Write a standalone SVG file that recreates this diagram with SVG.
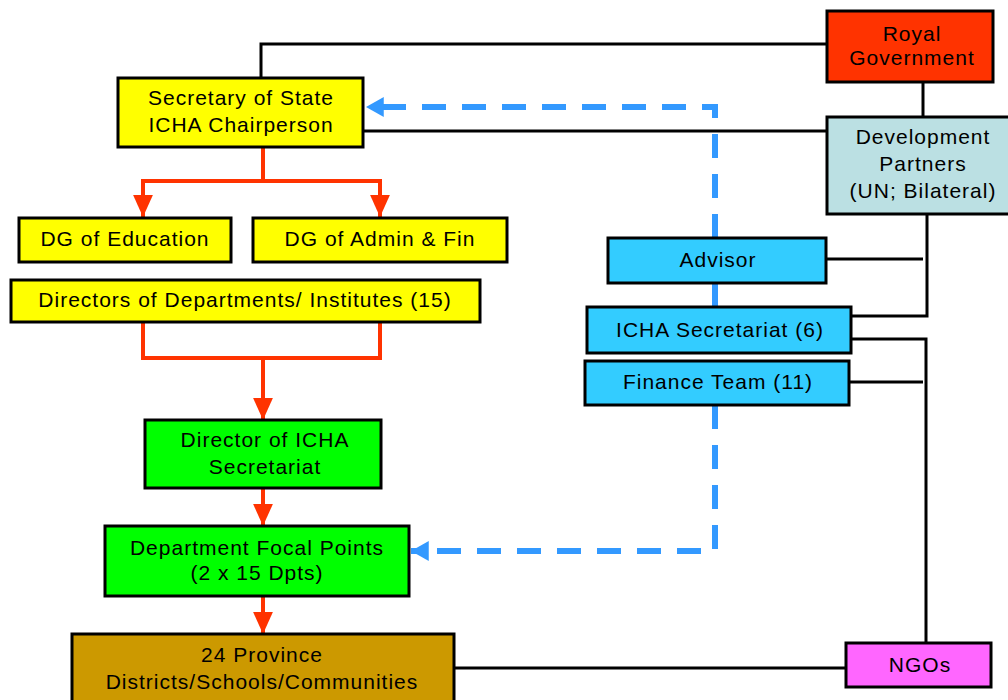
<svg xmlns="http://www.w3.org/2000/svg" width="1008" height="700" viewBox="0 0 1008 700">
<style>
.box{stroke:#000;stroke-width:3}
.t{font-family:"Liberation Sans",Arial,sans-serif;font-size:21px;letter-spacing:1px;fill:#000;text-anchor:middle}
.red{fill:none;stroke:#FF3300;stroke-width:4}
.blk{fill:none;stroke:#000;stroke-width:3}
.blue{fill:none;stroke:#3399FF;stroke-width:6;stroke-dasharray:24 16}
</style>
<defs>
<marker id="ar" markerUnits="userSpaceOnUse" markerWidth="22" markerHeight="22" viewBox="0 -10 20 20" refX="20" refY="0" orient="auto">
<path d="M0,-9 L20,0 L0,9 z" fill="#FF3300"/>
</marker>
<marker id="ab" markerUnits="userSpaceOnUse" markerWidth="18" markerHeight="20" viewBox="0 -9 16 18" refX="16" refY="0" orient="auto">
<path d="M0,-9 L16,0 L0,9 z" fill="#3399FF"/>
</marker>
</defs>
<rect width="1008" height="700" fill="#fff"/>
<g id="connectors">
<path class="blk" d="M261 78 V44 H827"/>
<path class="blk" d="M363 131 H827"/>
<path class="blk" d="M923 82 V117"/>
<path class="blk" d="M927 214 V316 H852"/>
<path class="blk" d="M826 259 H923"/>
<path class="blk" d="M851 339 H926 V643"/>
<path class="blk" d="M849 382 H923"/>
<path class="blk" d="M454 668 H846"/>
<path class="red" d="M263 147 V181"/>
<path class="red" d="M263 181 H143 V217" marker-end="url(#ar)"/>
<path class="red" d="M263 181 H380 V217" marker-end="url(#ar)"/>
<path class="red" d="M143 322 V358 H380 V322"/>
<path class="red" d="M263 358 V420" marker-end="url(#ar)"/>
<path class="red" d="M263 488 V526" marker-end="url(#ar)"/>
<path class="red" d="M263 596 V634" marker-end="url(#ar)"/>
<path class="blue" d="M715 238 V107 H366" marker-end="url(#ab)"/>
<path class="blue" d="M715 283 V307"/>
<path class="blue" d="M715 405 V551 H411" marker-end="url(#ab)"/>
</g>
<g id="royal"><rect class="box" x="827" y="11" width="166" height="71" fill="#FF3300"/><text class="t" x="912" y="41">Royal</text><text class="t" x="912" y="65">Government</text></g>
<g id="secretary"><rect class="box" x="118" y="78" width="245" height="69" fill="#FFFF00"/><text class="t" x="241" y="105">Secretary of State</text><text class="t" x="241" y="132">ICHA Chairperson</text></g>
<g id="devpartners"><rect class="box" x="827" y="117" width="190" height="97" fill="#BBE0E3"/><text class="t" x="923" y="144">Development</text><text class="t" x="923" y="171">Partners</text><text class="t" x="923" y="198">(UN; Bilateral)</text></g>
<g id="dgedu"><rect class="box" x="19" y="218" width="212" height="44" fill="#FFFF00"/><text class="t" x="125" y="246">DG of Education</text></g>
<g id="dgadmin"><rect class="box" x="253" y="218" width="254" height="44" fill="#FFFF00"/><text class="t" x="380" y="246">DG of Admin &amp; Fin</text></g>
<g id="directors"><rect class="box" x="11" y="280" width="469" height="42" fill="#FFFF00"/><text class="t" x="245" y="307">Directors of Departments/ Institutes (15)</text></g>
<g id="advisor"><rect class="box" x="608" y="238" width="218" height="45" fill="#33CCFF"/><text class="t" x="718" y="267">Advisor</text></g>
<g id="ichasec"><rect class="box" x="587" y="307" width="264" height="46" fill="#33CCFF"/><text class="t" x="720" y="337">ICHA Secretariat (6)</text></g>
<g id="finance"><rect class="box" x="585" y="361" width="264" height="44" fill="#33CCFF"/><text class="t" x="718" y="389">Finance Team (11)</text></g>
<g id="director-icha"><rect class="box" x="145" y="420" width="236" height="68" fill="#00FF00"/><text class="t" x="265" y="447">Director of ICHA</text><text class="t" x="265" y="474">Secretariat</text></g>
<g id="focal"><rect class="box" x="105" y="526" width="304" height="70" fill="#00FF00"/><text class="t" x="257" y="555">Department Focal Points</text><text class="t" x="257" y="580">(2 x 15 Dpts)</text></g>
<g id="province"><rect class="box" x="72" y="634" width="382" height="80" fill="#CC9900"/><text class="t" x="262" y="662">24 Province</text><text class="t" x="262" y="689">Districts/Schools/Communities</text></g>
<g id="ngos"><rect class="box" x="846" y="643" width="145" height="44" fill="#FF66FF"/><text class="t" x="920" y="672">NGOs</text></g>
</svg>
